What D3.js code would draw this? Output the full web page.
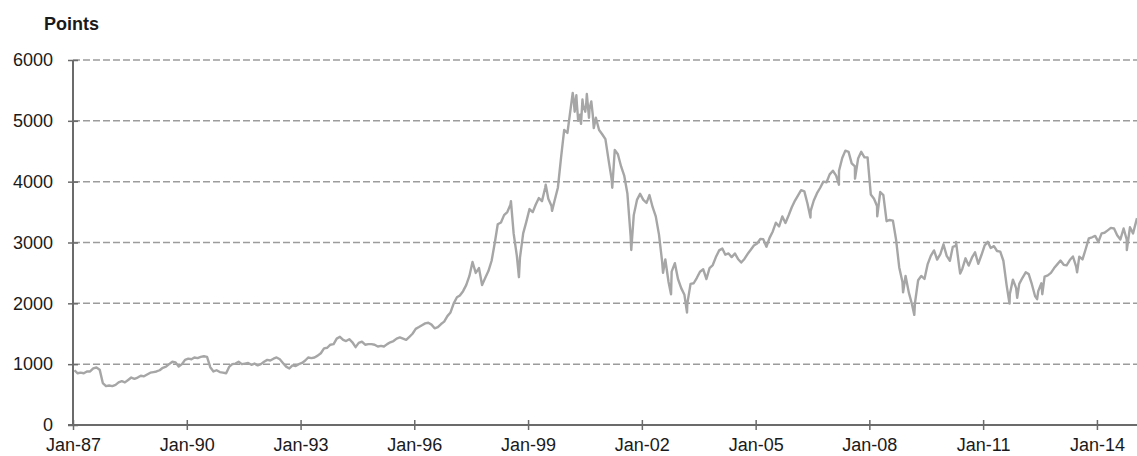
<!DOCTYPE html>
<html>
<head>
<meta charset="utf-8">
<script src="https://cdn.jsdelivr.net/npm/d3@7"></script>
<style>
  html, body { margin: 0; padding: 0; background: #fff; }
  svg { display: block; }
  text { font-family: "Liberation Sans", Arial, Helvetica, sans-serif; fill: #1a1a1a; }
</style>
</head>
<body>
<svg id="chart" width="1137" height="456"></svg>
<script>
// ---------- data ----------
const startYear = 1987;            // first monthly value is January 1987 (placed mid-month)
const closes1987 = [900, 850, 860, 850, 880, 880, 930, 945, 910, 690, 640, 650];
const closes1988 = [640, 660, 700, 720, 700, 740, 780, 760, 780, 810, 800, 830];
const closes1989 = [860, 870, 880, 900, 940, 960, 1000, 1040, 1030, 960, 1000, 1070];
const closes1990 = [1090, 1080, 1110, 1100, 1120, 1130, 1120, 950, 880, 900, 870, 860];
const closes1991 = [850, 960, 1000, 1010, 1040, 1000, 1010, 1020, 990, 1010, 980, 1000];
const closes1992 = [1040, 1070, 1060, 1090, 1110, 1080, 1020, 960, 930, 980, 970, 1000];
const closes1993 = [1020, 1060, 1110, 1100, 1110, 1140, 1180, 1260, 1270, 1320, 1330, 1420];
const closes1994 = [1450, 1400, 1380, 1410, 1360, 1280, 1350, 1370, 1320, 1330, 1330, 1320];
const closes1995 = [1290, 1300, 1290, 1330, 1360, 1380, 1420, 1440, 1420, 1400, 1450, 1500];
const closes1996 = [1580, 1610, 1640, 1670, 1680, 1650, 1590, 1610, 1660, 1700, 1790, 1850];
const closes1997 = [2000, 2100, 2130, 2200, 2300, 2450, 2680, 2500, 2580, 2300, 2420, 2530];
const closes1998 = [2700, 3000, 3300, 3330, 3450, 3500, 3620, 3150, 2780, 2750, 3150, 3340];
const closes1999 = [3550, 3500, 3620, 3730, 3680, 3900, 3720, 3600, 3700, 3900, 4400, 4850];
const closes2000 = [4800, 5200, 5350, 5280, 5100, 5250, 5300, 5200, 5100, 5050, 4850, 4780];
const closes2001 = [4700, 4350, 4050, 4520, 4450, 4250, 4100, 3800, 3100, 3450, 3700, 3800];
const closes2002 = [3700, 3650, 3780, 3580, 3430, 3130, 2690, 2720, 2350, 2520, 2660, 2400];
const closes2003 = [2250, 2140, 2000, 2320, 2330, 2420, 2520, 2560, 2400, 2580, 2630, 2760];
const closes2004 = [2870, 2900, 2800, 2820, 2760, 2820, 2730, 2670, 2730, 2810, 2880, 2950];
const closes2005 = [2984, 3058, 3056, 2930, 3076, 3182, 3326, 3264, 3429, 3321, 3447, 3579];
const closes2006 = [3690, 3780, 3860, 3840, 3640, 3520, 3690, 3810, 3900, 4000, 3990, 4120];
const closes2007 = [4180, 4100, 4180, 4390, 4510, 4490, 4300, 4250, 4380, 4490, 4400, 4400];
const closes2008 = [3790, 3720, 3600, 3830, 3780, 3350, 3370, 3360, 3040, 2590, 2350, 2450];
const closes2009 = [2180, 1980, 2000, 2380, 2450, 2400, 2640, 2780, 2870, 2720, 2810, 2970];
const closes2010 = [2780, 2700, 2930, 2950, 2610, 2570, 2740, 2620, 2750, 2840, 2650, 2790];
const closes2011 = [2950, 3010, 2910, 2940, 2860, 2850, 2700, 2300, 2150, 2390, 2250, 2320];
const closes2012 = [2420, 2510, 2480, 2310, 2120, 2200, 2330, 2440, 2460, 2500, 2580, 2640];
const closes2013 = [2703, 2633, 2624, 2712, 2770, 2603, 2768, 2721, 2893, 3068, 3086, 3109];
const closes2014 = [3010, 3150, 3160, 3200, 3240, 3230, 3120, 3050, 3230, 3050, 3250, 3150];

// intra-month highs and lows
const extremeDates = ["1998-07-20", "1998-10-05", "1999-06-20", "1999-08-20",
  "2000-03-06", "2000-03-25", "2000-04-10", "2000-04-28", "2000-05-25", "2000-06-08",
  "2000-07-05", "2000-07-20", "2000-08-10", "2000-09-01", "2000-09-25",
  "2001-03-22", "2001-09-21", "2002-07-24", "2002-10-09", "2003-03-12",
  "2006-06-13", "2007-03-14", "2007-08-16", "2008-03-17", "2008-11-21", "2009-03-09",
  "2010-04-15", "2010-05-25", "2011-09-12", "2011-11-25", "2012-06-04", "2012-07-24",
  "2013-06-24", "2014-10-16", "2015-01-22"];
const extremeValues = [3680, 2430, 3950, 3520,
  5460, 5150, 5420, 5000, 4950, 5350,
  5150, 5440, 5050, 5320, 4880,
  3900, 2877, 2500, 2150, 1850,
  3410, 3950, 4050, 3430, 2180, 1810,
  3010, 2490, 1995, 2090, 2068, 2150,
  2510, 2875, 3400];

const yTicks = [0, 1000, 2000, 3000, 4000, 5000, 6000];
const xTickYears = [1987, 1990, 1993, 1996, 1999, 2002, 2005, 2008, 2011, 2014];
const xTickLabels = ["Jan-87", "Jan-90", "Jan-93", "Jan-96", "Jan-99", "Jan-02", "Jan-05", "Jan-08", "Jan-11", "Jan-14"];
const yTitle = "Points";

// ---------- build series ----------
const allYears = [closes1987, closes1988, closes1989, closes1990, closes1991, closes1992, closes1993,
  closes1994, closes1995, closes1996, closes1997, closes1998, closes1999, closes2000, closes2001,
  closes2002, closes2003, closes2004, closes2005, closes2006, closes2007, closes2008, closes2009,
  closes2010, closes2011, closes2012, closes2013, closes2014];
const series = [];
allYears.forEach((arr, yi) => {
  arr.forEach((v, m) => series.push({ date: new Date(startYear + yi, m, 15), value: v }));
});
const parseDate = d3.timeParse("%Y-%m-%d");
extremeDates.forEach((ds, i) => series.push({ date: parseDate(ds), value: extremeValues[i] }));
series.sort((a, b) => a.date - b.date);

// ---------- layout ----------
const svg = d3.select("#chart");
const plotLeft = 73, plotRight = 1137, plotTop = 60, plotBottom = 425;

const x = d3.scaleTime()
  .domain([new Date(1987, 0, 1), new Date(2015, 0, 22)])
  .range([plotLeft, plotRight]);
const y = d3.scaleLinear().domain([0, 6000]).range([plotBottom, plotTop]);

// gridlines
svg.append("g").selectAll("line")
  .data(yTicks.filter(d => d > 0))
  .join("line")
  .attr("x1", plotLeft).attr("x2", plotRight)
  .attr("y1", d => y(d)).attr("y2", d => y(d))
  .attr("stroke", "#9c9c9c").attr("stroke-width", 1.5)
  .attr("stroke-dasharray", "7,3");

// y axis
const yAxis = d3.axisLeft(y).tickValues(yTicks).tickSize(5).tickPadding(15).tickFormat(d3.format("d"));
const gy = svg.append("g").attr("transform", `translate(${plotLeft},0)`).call(yAxis);
gy.select(".domain").attr("stroke", "#6b6b6b").attr("stroke-width", 2).attr("d", `M0,${plotTop}V${plotBottom}`);
gy.selectAll(".tick line").attr("stroke", "#6b6b6b").attr("stroke-width", 1.5).attr("x1", 5).attr("x2", -5);
gy.selectAll(".tick text").attr("font-size", 18).attr("fill", "#1a1a1a")
  .attr("font-family", '"Liberation Sans", Arial, sans-serif');

// x axis
const xAxis = d3.axisBottom(x)
  .tickValues(xTickYears.map(yr => new Date(yr, 0, 1)))
  .tickSize(5).tickPadding(8)
  .tickFormat((d, i) => xTickLabels[i]);
const gx = svg.append("g").attr("transform", `translate(0,${plotBottom})`).call(xAxis);
gx.select(".domain").attr("stroke", "#6b6b6b").attr("stroke-width", 2).attr("d", `M${plotLeft - 5},0H${plotRight}`);
gx.selectAll(".tick line").attr("stroke", "#6b6b6b").attr("stroke-width", 1.5).attr("y1", -5);
gx.selectAll(".tick text").attr("font-size", 18).attr("fill", "#1a1a1a")
  .attr("font-family", '"Liberation Sans", Arial, sans-serif');

// line
const line = d3.line().x(d => x(d.date)).y(d => y(d.value));
svg.append("path")
  .datum(series)
  .attr("d", line)
  .attr("fill", "none")
  .attr("stroke", "#a6a6a6")
  .attr("stroke-width", 2.4)
  .attr("stroke-linejoin", "round");

// title
svg.append("text")
  .attr("x", 44).attr("y", 30)
  .attr("font-size", 18).attr("font-weight", "bold")
  .text(yTitle);
</script>
</body>
</html>
